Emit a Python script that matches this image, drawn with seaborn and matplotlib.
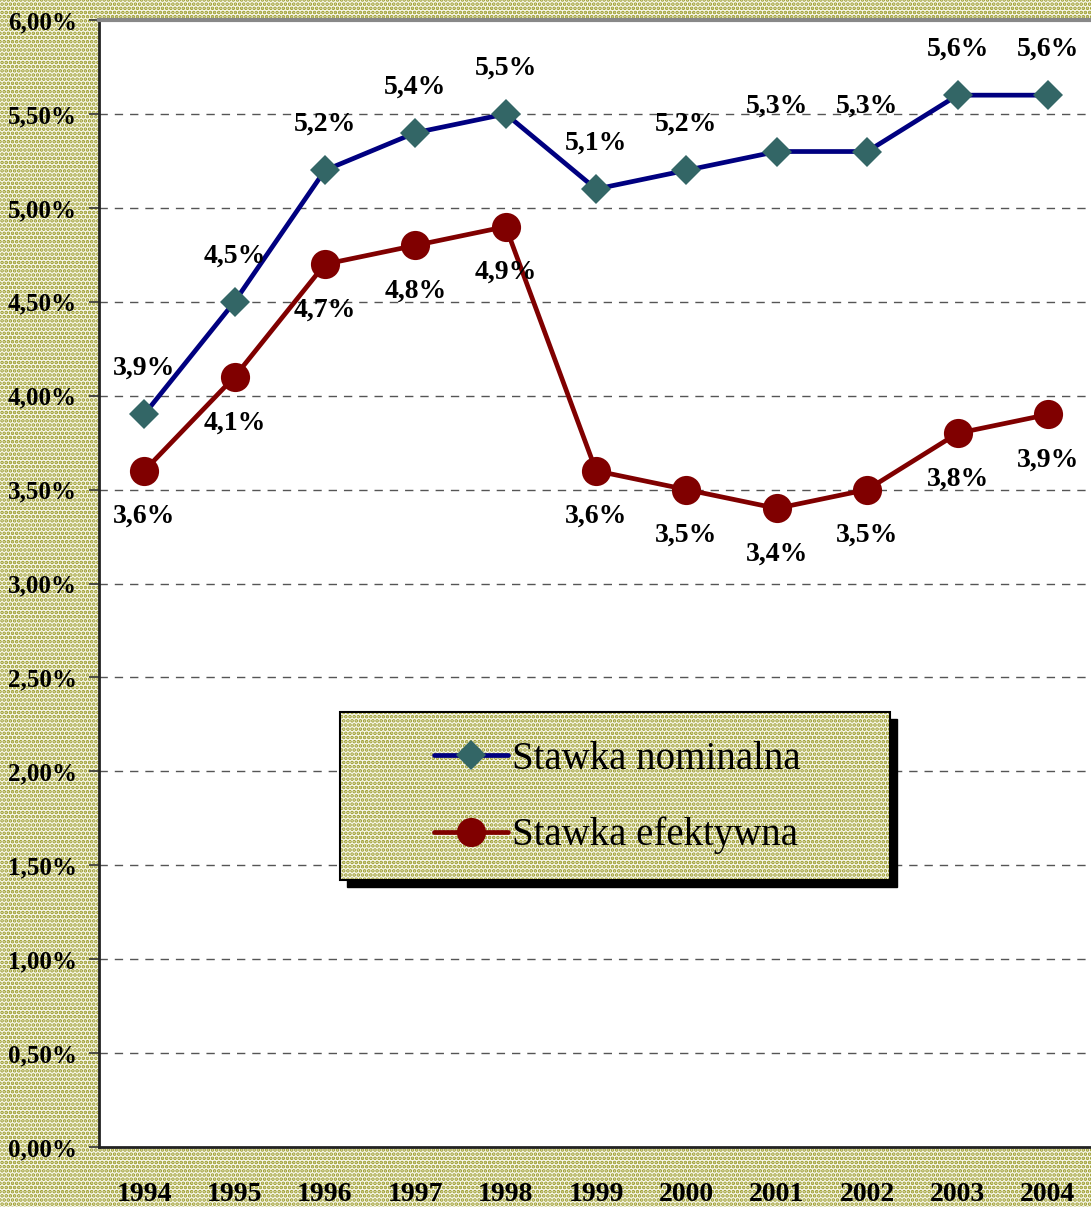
import numpy as np
import pandas as pd
import seaborn as sns
import matplotlib.pyplot as plt
from matplotlib.patches import Rectangle
from matplotlib.lines import Line2D

# datos
years = ['1994', '1995', '1996', '1997', '1998', '1999', '2000', '2001', '2002', '2003', '2004']
nominal = [3.9, 4.5, 5.2, 5.4, 5.5, 5.1, 5.2, 5.3, 5.3, 5.6, 5.6]
efektywna = [3.6, 4.1, 4.7, 4.8, 4.9, 3.6, 3.5, 3.4, 3.5, 3.8, 3.9]
series_names = ['Stawka nominalna', 'Stawka efektywna']
y_ticks = [0.0, 0.5, 1.0, 1.5, 2.0, 2.5, 3.0, 3.5, 4.0, 4.5, 5.0, 5.5, 6.0]

sns.set_style('white')
plt.rcParams['font.family'] = ['Liberation Serif', 'DejaVu Serif']
plt.rcParams['text.color'] = 'black'
plt.rcParams['xtick.color'] = 'black'
plt.rcParams['ytick.color'] = 'black'
plt.rcParams['hatch.linewidth'] = 1.8

BG = '#f8f8ec'
DOT = '#999926'

fig = plt.figure(figsize=(10.91, 12.07), dpi=100)
fig.patch.set_facecolor(BG)
fig.patch.set_edgecolor(DOT)
fig.patch.set_hatch('....')
fig.patch.set_linewidth(0)

ax = fig.add_axes([0.0907, 0.0497, 0.9113, 0.9337])
ax.set_facecolor('white')

x = np.arange(len(years))
df = pd.DataFrame({'x': x, 'nom': nominal, 'ef': efektywna})

sns.lineplot(data=df, x='x', y='nom', ax=ax, color='#000080', linewidth=3.4,
             marker='D', markersize=15, markerfacecolor='#336666',
             markeredgecolor='#336666', markeredgewidth=0, zorder=4)
sns.lineplot(data=df, x='x', y='ef', ax=ax, color='#800000', linewidth=3.4,
             marker='o', markersize=21, markerfacecolor='#800000',
             markeredgecolor='#800000', markeredgewidth=0, zorder=4)

def fmt(v):
    return f'{v:.1f}%'.replace('.', ',')

for i, v in enumerate(nominal):
    ax.annotate(fmt(v), (x[i], v), xytext=(0, 33), textcoords='offset points',
                ha='center', va='center', fontsize=20, fontweight='bold', zorder=5)
for i, v in enumerate(efektywna):
    ax.annotate(fmt(v), (x[i], v), xytext=(0, -33), textcoords='offset points',
                ha='center', va='center', fontsize=20, fontweight='bold', zorder=5)

ax.set_xlim(-0.5, len(years) - 0.5)
ax.set_ylim(0, 6)
ax.set_yticks(y_ticks)
ax.set_yticklabels([f'{v:.2f}%'.replace('.', ',') for v in y_ticks],
                   fontsize=18, fontweight='bold')
ax.set_xticks(x)
ax.set_xticklabels(years, fontsize=20, fontweight='bold')
ax.set_xticks(np.arange(-0.5, len(years)), minor=True)
ax.tick_params(axis='x', which='major', length=0, pad=25)
ax.tick_params(axis='x', which='minor', direction='inout', length=16, width=1.2, color='#333333')
ax.tick_params(axis='y', which='major', direction='out', length=7, width=1.2,
               color='#333333', pad=9, left=True)
ax.set_xlabel('')
ax.set_ylabel('')

for v in y_ticks[1:-1]:
    ax.axhline(v, color='#555555', linestyle=(0, (6, 5)), linewidth=1.0, zorder=1)

ax.spines['top'].set_color('#888888')
ax.spines['top'].set_linewidth(3)
ax.spines['left'].set_color('#222222')
ax.spines['left'].set_linewidth(2)
ax.spines['bottom'].set_color('#222222')
ax.spines['bottom'].set_linewidth(2)
ax.spines['right'].set_visible(False)

# ramka legendy z cieniem
x0 = (340 - 99) / 994
w = 550 / 994
y1 = (1147 - 880) / 1127
h = 168 / 1127
ax.add_patch(Rectangle((x0 + 7 / 994, y1 - 7 / 1127), w, h, transform=ax.transAxes,
                       facecolor='black', edgecolor='black', zorder=6))
ax.add_patch(Rectangle((x0, y1), w, h, transform=ax.transAxes, facecolor=BG,
                       edgecolor=DOT, hatch='....', linewidth=0, zorder=7))
ax.add_patch(Rectangle((x0, y1), w, h, transform=ax.transAxes, facecolor='none',
                       edgecolor='black', linewidth=1.5, zorder=8))

handles = [
    Line2D([], [], color='#000080', linewidth=3.4, marker='D', markersize=15,
           markerfacecolor='#336666', markeredgewidth=0),
    Line2D([], [], color='#800000', linewidth=3.4, marker='o', markersize=21,
           markerfacecolor='#800000', markeredgewidth=0),
]
leg = ax.legend(handles, series_names, loc='center', bbox_to_anchor=(0.521, 0.31),
                frameon=False, prop={'family': 'Liberation Serif', 'size': 28},
                handlelength=1.9, handletextpad=0.1, labelspacing=1.0)
for t in leg.get_texts():
    t.set_color('black')
leg.set_zorder(9)

fig.savefig('out.png', dpi=100, facecolor=fig.get_facecolor())
